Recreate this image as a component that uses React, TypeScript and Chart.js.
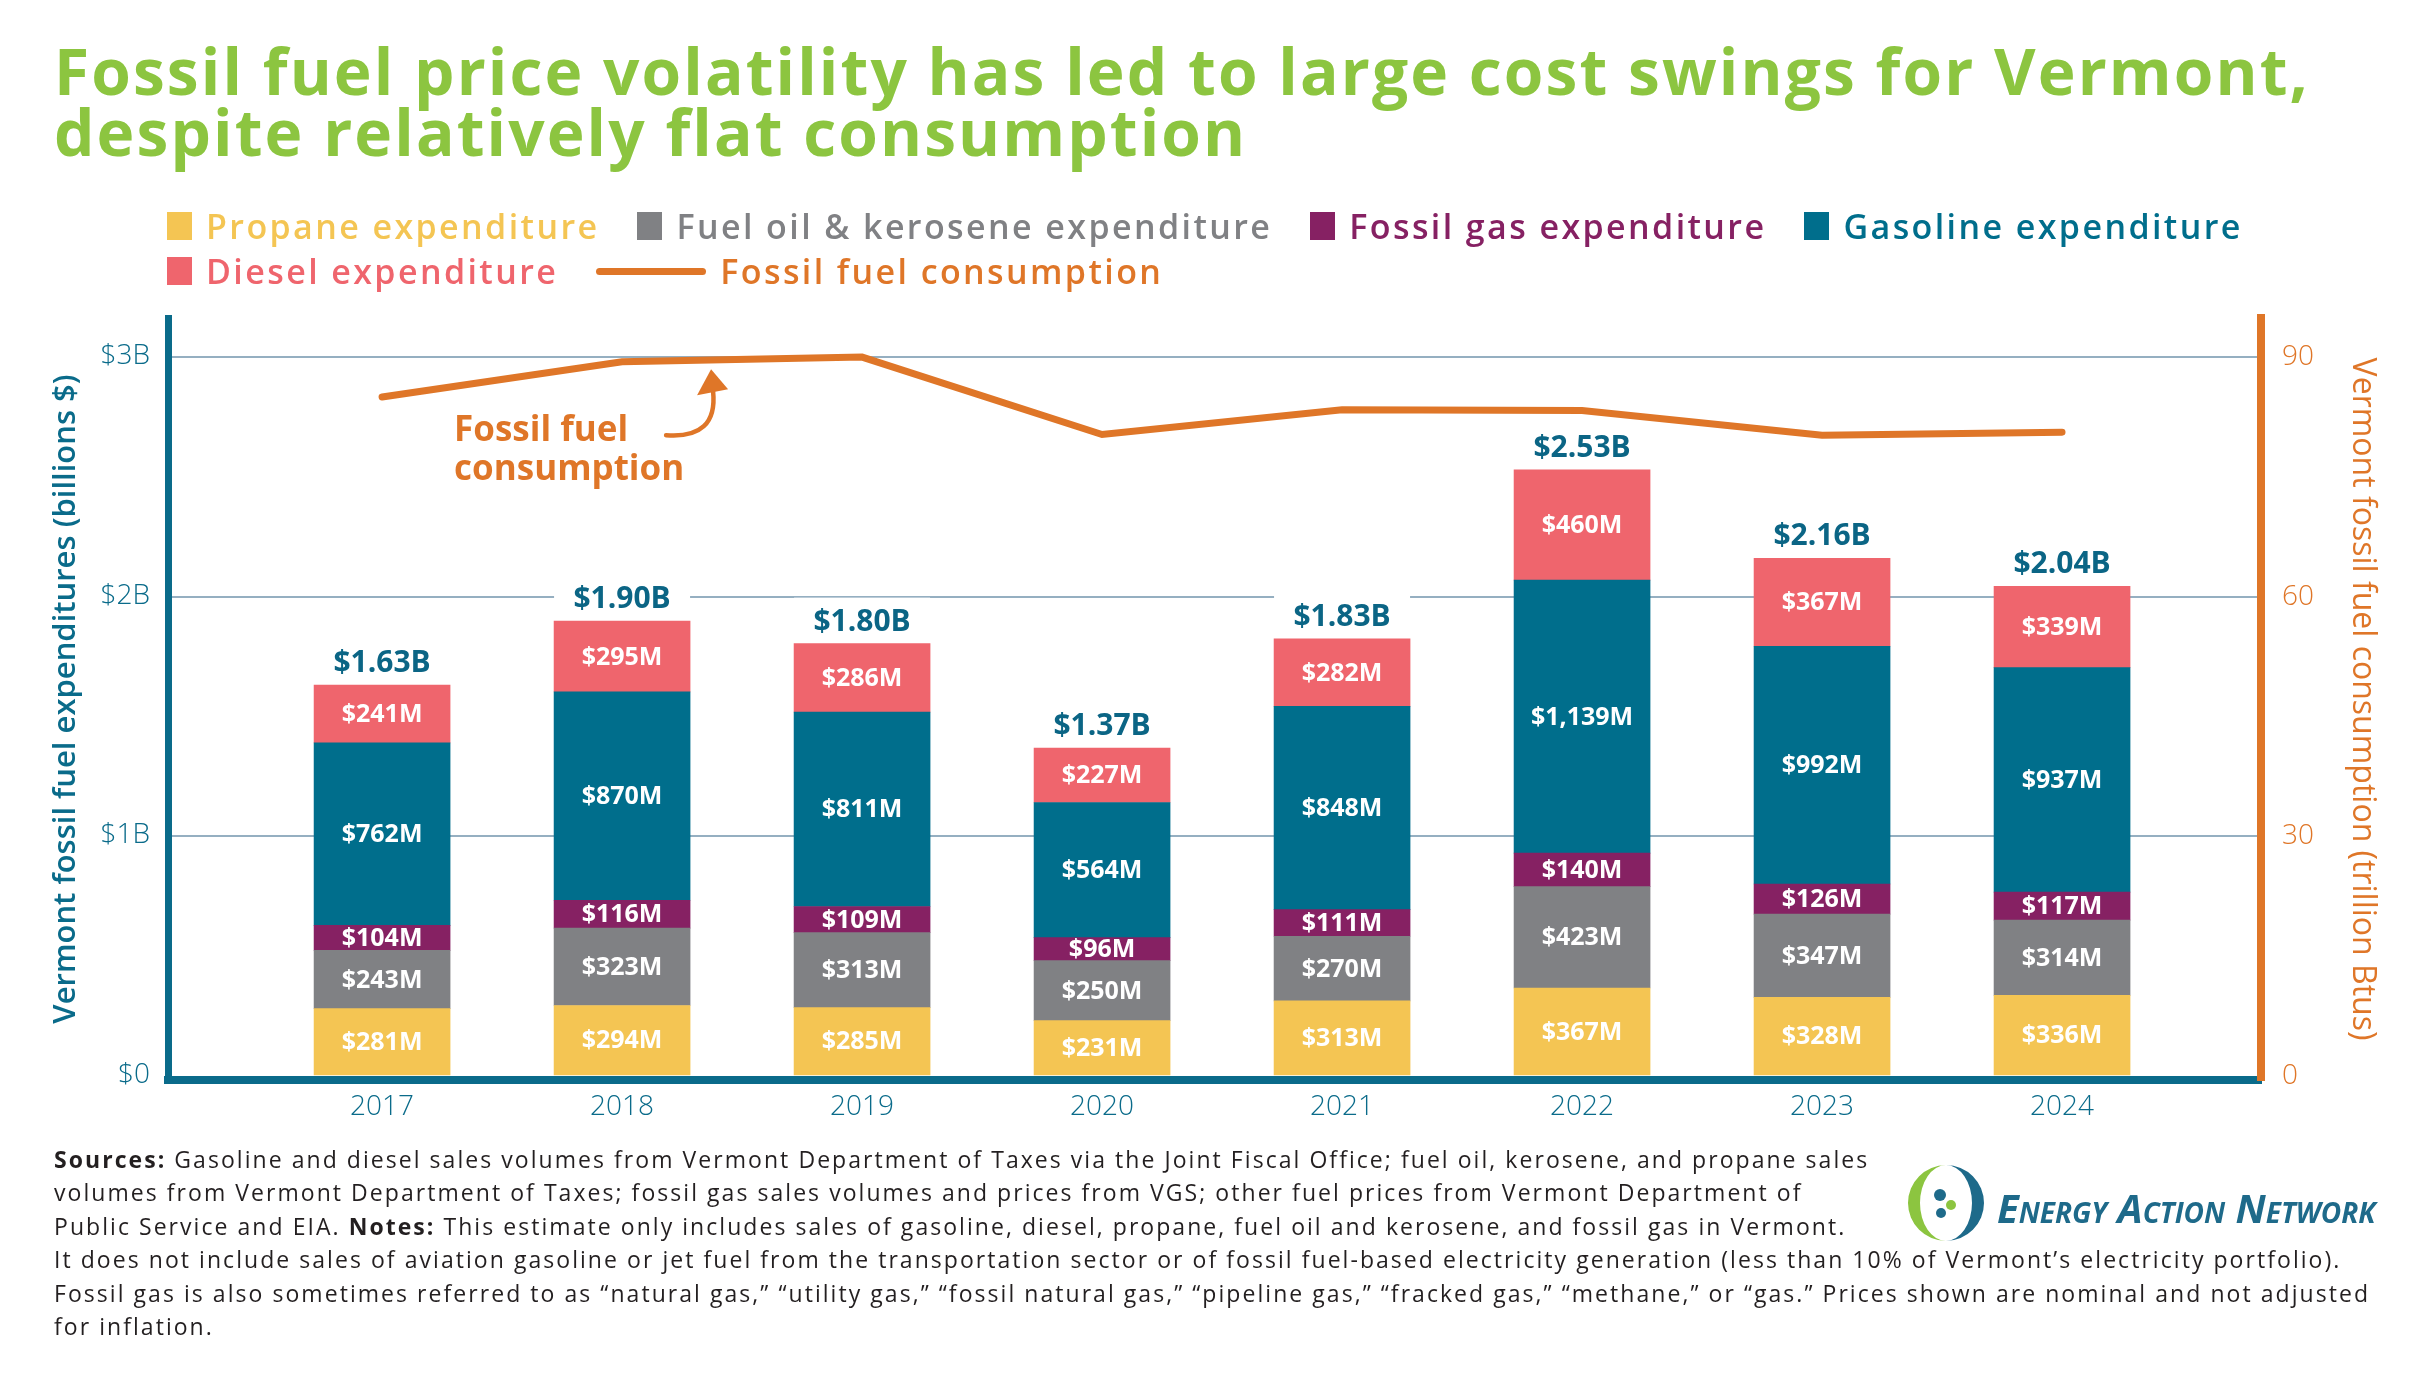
import React, { useEffect, useRef } from "react";
import { Chart, registerables } from "chart.js";

Chart.register(...registerables);

// ---------------- data ----------------
const years = ["2017", "2018", "2019", "2020", "2021", "2022", "2023", "2024"];
const propane = [281, 294, 285, 231, 313, 367, 328, 336];
const fuelOil = [243, 323, 313, 250, 270, 423, 347, 314];
const fossilGas = [104, 116, 109, 96, 111, 140, 126, 117];
const gasoline = [762, 870, 811, 564, 848, 1139, 992, 937];
const diesel = [241, 295, 286, 227, 282, 460, 367, 339];
const totalsB = [1.63, 1.9, 1.8, 1.37, 1.83, 2.53, 2.16, 2.04];
const consumption = [85.0, 89.4, 90.0, 80.3, 83.4, 83.3, 80.2, 80.6];
const leftTicks = [0, 1000, 2000, 3000];
const leftTickLabels = ["$0", "$1B", "$2B", "$3B"];
const rightTicks = [0, 30, 60, 90];
const rightTickLabels = ["0", "30", "60", "90"];
const seriesLabels = [
  "Propane expenditure",
  "Fuel oil & kerosene expenditure",
  "Fossil gas expenditure",
  "Gasoline expenditure",
  "Diesel expenditure",
];
const lineLabel = "Fossil fuel consumption";
const annotationLines = ["Fossil fuel", "consumption"];

// ---------------- styles ----------------
const FONT = "'Open Sans', sans-serif";
const TEAL = "#0A6B8A";
const TOTAL_TEAL = "#0B6585";
const ORANGE = "#DF7628";
const GREEN = "#8CC540";
const GRID = "#95AFC1";
const seriesColors = ["#F4C553", "#808184", "#862163", "#006E8C", "#EF656D"];

// axis ranges (M$ on the left, trillion Btu on the right; 90 Btu aligns with $3B)
const X_MIN = -0.892;
const X_MAX = 7.829;
const Y_MIN = -17;
const Y_MAX = 3163;
const RATIO = 90 / 3000;

const fmtM = (v: number) => "$" + v.toLocaleString("en-US") + "M";
const fmtB = (v: number) => "$" + v.toFixed(2) + "B";

export default function App() {
  const ref = useRef<HTMLCanvasElement | null>(null);

  useEffect(() => {
    const canvas = ref.current;
    if (!canvas) return;
    const seriesData = [propane, fuelOil, fossilGas, gasoline, diesel];
    const toXY = (arr: number[]) => arr.map((v, i) => ({ x: i, y: v }));

    const segmentLabels = {
      id: "segmentLabels",
      afterDatasetsDraw(chart: any) {
        const { ctx } = chart;
        ctx.save();
        ctx.fillStyle = "#ffffff";
        ctx.font = `700 25px ${FONT}`;
        ctx.textAlign = "center";
        ctx.textBaseline = "middle";
        seriesData.forEach((arr, d) => {
          const meta = chart.getDatasetMeta(d);
          meta.data.forEach((el: any, i: number) => {
            const { x, y, base } = el.getProps(["x", "y", "base"], true);
            ctx.fillText(fmtM(arr[i]), x, (y + base) / 2 + 1);
          });
        });
        ctx.restore();
      },
    };

    const totalLabels = {
      id: "totalLabels",
      beforeDatasetsDraw(chart: any) {
        const { ctx } = chart;
        const meta = chart.getDatasetMeta(seriesData.length - 1);
        ctx.save();
        meta.data.forEach((el: any, i: number) => {
          const { x, y, width } = el.getProps(["x", "y", "width"], true);
          ctx.fillStyle = "#ffffff";
          ctx.fillRect(x - width / 2, y - 46, width, 42);
          ctx.fillStyle = TOTAL_TEAL;
          ctx.font = `700 30px ${FONT}`;
          ctx.textAlign = "center";
          ctx.textBaseline = "alphabetic";
          ctx.fillText(fmtB(totalsB[i]), x, y - 13);
        });
        ctx.restore();
      },
    };

    const annotation = {
      id: "annotation",
      afterDatasetsDraw(chart: any) {
        const { ctx, scales } = chart;
        const bx = scales.x.getPixelForValue(0.3);
        const by = scales.y.getPixelForValue(2649);
        ctx.save();
        ctx.fillStyle = ORANGE;
        ctx.strokeStyle = ORANGE;
        ctx.font = `700 35px ${FONT}`;
        ctx.textAlign = "left";
        ctx.textBaseline = "alphabetic";
        annotationLines.forEach((t, k) => ctx.fillText(t, bx, by + k * 39));
        ctx.lineWidth = 4.5;
        ctx.lineCap = "round";
        ctx.beginPath();
        ctx.moveTo(bx + 212, by - 6);
        ctx.quadraticCurveTo(bx + 264, by - 2, bx + 259, by - 50);
        ctx.stroke();
        ctx.beginPath();
        ctx.moveTo(bx + 257, by - 72);
        ctx.lineTo(bx + 243, by - 46);
        ctx.lineTo(bx + 274, by - 52);
        ctx.closePath();
        ctx.fill();
        ctx.restore();
      },
    };

    const chart = new Chart(canvas, {
      type: "bar",
      data: {
        datasets: [
          ...seriesData.map((arr, d) => ({
            type: "bar" as const,
            label: seriesLabels[d],
            data: toXY(arr),
            backgroundColor: seriesColors[d],
            borderWidth: 0,
            barThickness: 136,
            stack: "exp",
            yAxisID: "y",
            order: 1,
          })),
          {
            type: "line" as const,
            label: lineLabel,
            data: toXY(consumption),
            yAxisID: "y1",
            borderColor: ORANGE,
            backgroundColor: ORANGE,
            borderWidth: 7,
            pointRadius: 0,
            tension: 0,
            fill: false,
            borderCapStyle: "round",
            borderJoinStyle: "miter",
            order: 0,
          },
        ],
      } as any,
      options: {
        responsive: false,
        maintainAspectRatio: false,
        animation: false,
        layout: { padding: { top: 318, left: 0, right: 0, bottom: 0 } },
        plugins: {
          legend: { display: false },
          tooltip: { enabled: false },
          title: { display: false },
        },
        scales: {
          x: {
            type: "linear",
            min: X_MIN,
            max: X_MAX,
            stacked: true,
            offset: false,
            afterBuildTicks: (s: any) => {
              s.ticks = years.map((_, i) => ({ value: i }));
            },
            afterFit: (s: any) => {
              s.height = 70;
            },
            ticks: {
              callback: (v: any) => years[v],
              color: TEAL,
              font: { family: FONT, size: 28, weight: 300 },
              padding: 10,
              autoSkip: false,
              maxRotation: 0,
            },
            grid: { display: true, color: "rgba(0,0,0,0)", drawTicks: false },
            border: { display: true, color: TEAL, width: 8 },
          },
          y: {
            type: "linear",
            position: "left",
            stacked: true,
            min: Y_MIN,
            max: Y_MAX,
            afterBuildTicks: (s: any) => {
              s.ticks = leftTicks.map((v) => ({ value: v }));
            },
            afterFit: (s: any) => {
              s.width = 168;
            },
            ticks: {
              callback: (v: any) => leftTickLabels[leftTicks.indexOf(v)],
              color: TEAL,
              font: { family: FONT, size: 28, weight: 300 },
              padding: 18,
              labelOffset: -1,
            },
            grid: {
              color: (c: any) => (c.tick && c.tick.value === 0 ? "rgba(0,0,0,0)" : GRID),
              lineWidth: 2,
              drawTicks: false,
            },
            border: { display: true, color: TEAL, width: 7 },
            title: {
              display: true,
              text: "Vermont fossil fuel expenditures (billions $)",
              color: TEAL,
              font: { family: FONT, size: 31, weight: 600 },
              padding: { top: 48, bottom: 0 },
            },
          },
          y1: {
            type: "linear",
            position: "right",
            min: Y_MIN * RATIO,
            max: Y_MAX * RATIO,
            afterBuildTicks: (s: any) => {
              s.ticks = rightTicks.map((v) => ({ value: v }));
            },
            afterFit: (s: any) => {
              s.width = 169;
            },
            ticks: {
              callback: (v: any) => rightTickLabels[rightTicks.indexOf(v)],
              color: ORANGE,
              font: { family: FONT, size: 28, weight: 300 },
              padding: 21,
            },
            grid: { display: true, drawOnChartArea: false, drawTicks: false, color: "rgba(0,0,0,0)" },
            border: { display: true, color: ORANGE, width: 8 },
            title: {
              display: true,
              text: "Vermont fossil fuel consumption (trillion Btus)",
              color: ORANGE,
              font: { family: FONT, size: 32, weight: 500 },
              padding: { top: 49, bottom: 0 },
            },
          },
        },
      } as any,
      plugins: [totalLabels, segmentLabels, annotation],
    });

    return () => chart.destroy();
  }, []);

  const legendItem = (label: string, color: string, isLine: boolean, key: number) => (
    <div key={key} style={{ display: "flex", alignItems: "center", marginRight: 38 }}>
      <div
        style={
          isLine
            ? { width: 110, height: 7, borderRadius: 4, background: color, marginRight: 14 }
            : { width: 25, height: 28, background: color, marginRight: 14 }
        }
      />
      <span style={{ color, fontSize: 34, fontWeight: 600, letterSpacing: 2.4, whiteSpace: "nowrap" }}>{label}</span>
    </div>
  );

  const footerLines: React.ReactNode[] = [
    <>
      <b>Sources:</b> Gasoline and diesel sales volumes from Vermont Department of Taxes via the Joint Fiscal Office; fuel oil, kerosene, and propane sales
    </>,
    <>volumes from Vermont Department of Taxes; fossil gas sales volumes and prices from VGS; other fuel prices from Vermont Department of</>,
    <>
      Public Service and EIA. <b>Notes:</b> This estimate only includes sales of gasoline, diesel, propane, fuel oil and kerosene, and fossil gas in Vermont.
    </>,
    <>
      It does not include sales of aviation gasoline or jet fuel from the transportation sector or of fossil fuel-based electricity generation (less than 10% of Vermont’s electricity portfolio).
    </>,
    <>
      Fossil gas is also sometimes referred to as “natural gas,” “utility gas,” “fossil natural gas,” “pipeline gas,” “fracked gas,” “methane,” or “gas.” Prices shown are nominal and not adjusted
    </>,
    <>for inflation.</>,
  ];

  return (
    <div
      style={{
        position: "absolute",
        left: 0,
        top: 0,
        width: 2430,
        height: 1380,
        overflow: "hidden",
        background: "#ffffff",
        fontFamily: FONT,
      }}
    >
      <canvas ref={ref} width={2430} height={1150} style={{ position: "absolute", left: 0, top: 0, width: 2430, height: 1150 }} />

      <div
        style={{
          position: "absolute",
          left: 54,
          top: 40,
          color: GREEN,
          fontSize: 64,
          fontWeight: 700,
          lineHeight: "61px",
          letterSpacing: 2.1,
          whiteSpace: "nowrap",
        }}
      >
        <div>Fossil fuel price volatility has led to large cost swings for Vermont,</div>
        <div>despite relatively flat consumption</div>
      </div>

      <div style={{ position: "absolute", left: 167, top: 206, height: 40, display: "flex", alignItems: "center" }}>
        {seriesLabels.slice(0, 4).map((l, i) => legendItem(l, seriesColors[i], false, i))}
      </div>
      <div style={{ position: "absolute", left: 167, top: 251, height: 40, display: "flex", alignItems: "center" }}>
        {legendItem(seriesLabels[4], seriesColors[4], false, 4)}
        {legendItem(lineLabel, ORANGE, true, 5)}
      </div>

      <div
        style={{
          position: "absolute",
          left: 54,
          top: 1143,
          fontSize: 23,
          lineHeight: "33.4px",
          letterSpacing: 2.05,
          color: "#231F20",
          whiteSpace: "nowrap",
        }}
      >
        {footerLines.map((l, i) => (
          <div key={i}>{l}</div>
        ))}
      </div>

      <svg width={84} height={84} viewBox="0 0 84 84" style={{ position: "absolute", left: 1904, top: 1161 }}>
        <path d="M42 4 A38 38 0 0 0 42 80 A26 38 0 0 1 42 4 Z" fill="#8CC540" />
        <path d="M42 4 A38 38 0 0 1 42 80 A26 38 0 0 0 42 4 Z" fill="#1E6A8A" />
        <circle cx={36} cy={34} r={6} fill="#1E6A8A" />
        <circle cx={47} cy={44} r={5} fill="#8CC540" />
        <circle cx={37} cy={52} r={5} fill="#1E6A8A" />
      </svg>
      <div
        style={{
          position: "absolute",
          left: 1997,
          top: 1180,
          color: "#1E6A8A",
          fontSize: 40,
          fontWeight: 700,
          fontStyle: "italic",
          fontVariant: "small-caps",
          letterSpacing: 0,
          whiteSpace: "nowrap",
        }}
      >
        Energy Action Network
      </div>
    </div>
  );
}
